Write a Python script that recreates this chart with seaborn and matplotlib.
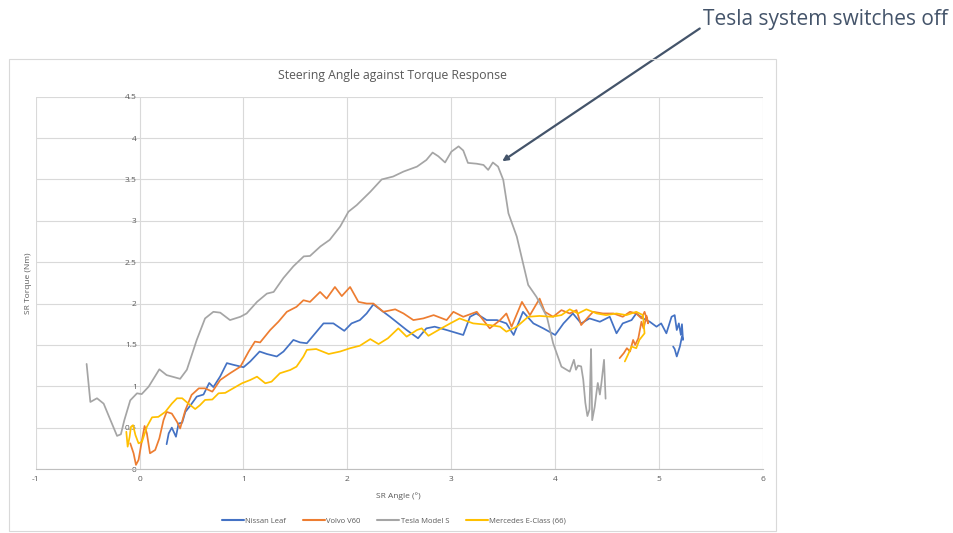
import matplotlib
matplotlib.use("Agg")
import matplotlib.pyplot as plt
import seaborn as sns
import pandas as pd
from matplotlib.patches import Rectangle

# ---------------- data ----------------
nissan_x = [0.26, 0.28, 0.31, 0.35, 0.375, 0.41, 0.44, 0.49, 0.55, 0.615, 0.67, 0.71, 0.776, 0.84, 0.90,
            1.0, 1.065, 1.155, 1.225, 1.32, 1.385, 1.48, 1.545, 1.61, 1.69, 1.77, 1.865, 1.97, 2.04, 2.12,
            2.185, 2.25, 2.41, 2.57, 2.68, 2.76, 2.84, 2.955, 3.115, 3.18, 3.24, 3.34, 3.44, 3.53, 3.60,
            3.69, 3.79, 3.885, 4.0, 4.08, 4.17, 4.25, 4.33, 4.43, 4.525, 4.59, 4.65, 4.735, 4.78, 4.845,
            4.91, 4.975, 5.02, 5.07, 5.12, 5.15, 5.17, 5.19, 5.21, 5.22, 5.23, 5.22, 5.20, 5.17, 5.15, 5.135]
nissan_y = [0.30, 0.43, 0.50, 0.39, 0.55, 0.56, 0.69, 0.77, 0.875, 0.90, 1.04, 0.99, 1.12, 1.28, 1.26,
            1.23, 1.30, 1.42, 1.39, 1.36, 1.42, 1.56, 1.53, 1.52, 1.64, 1.76, 1.76, 1.67, 1.76, 1.80,
            1.88, 1.99, 1.84, 1.68, 1.58, 1.70, 1.72, 1.68, 1.62, 1.84, 1.88, 1.80, 1.80, 1.76, 1.62,
            1.90, 1.76, 1.70, 1.62, 1.76, 1.88, 1.76, 1.82, 1.78, 1.84, 1.64, 1.76, 1.80, 1.88, 1.82,
            1.78, 1.72, 1.76, 1.64, 1.84, 1.86, 1.68, 1.76, 1.62, 1.75, 1.56, 1.60, 1.48, 1.36, 1.45, 1.48]

volvo_x = [-0.09, -0.058, -0.035, -0.01, 0.023, 0.048, 0.07, 0.10, 0.15, 0.19, 0.23, 0.26, 0.31, 0.36,
           0.39, 0.44, 0.50, 0.57, 0.63, 0.70, 0.776, 0.87, 0.97, 1.05, 1.11, 1.16, 1.257, 1.336, 1.417,
           1.51, 1.577, 1.64, 1.737, 1.80, 1.88, 1.946, 2.026, 2.106, 2.186, 2.25, 2.346, 2.46, 2.54,
           2.635, 2.73, 2.83, 2.955, 3.02, 3.115, 3.245, 3.37, 3.47, 3.53, 3.58, 3.68, 3.757, 3.85, 3.90,
           3.98, 4.06, 4.14, 4.205, 4.25, 4.32, 4.365, 4.46, 4.56, 4.65, 4.72, 4.78, 4.83, 4.86, 4.895,
           4.88, 4.85, 4.83, 4.80, 4.77, 4.75, 4.72, 4.69, 4.66, 4.62]
volvo_y = [0.31, 0.19, 0.05, 0.11, 0.35, 0.52, 0.43, 0.19, 0.23, 0.37, 0.59, 0.69, 0.67, 0.57,
           0.49, 0.71, 0.895, 0.975, 0.975, 0.935, 1.076, 1.157, 1.237, 1.42, 1.54, 1.53, 1.68, 1.78, 1.90,
           1.96, 2.04, 2.02, 2.14, 2.06, 2.20, 2.09, 2.20, 2.02, 2.00, 2.00, 1.90, 1.93, 1.88,
           1.80, 1.82, 1.86, 1.80, 1.90, 1.84, 1.90, 1.70, 1.80, 1.88, 1.72, 2.02, 1.86, 2.06, 1.90,
           1.84, 1.92, 1.88, 1.92, 1.74, 1.84, 1.90, 1.88, 1.88, 1.84, 1.90, 1.88, 1.82, 1.90, 1.76,
           1.85, 1.70, 1.78, 1.58, 1.50, 1.56, 1.42, 1.46, 1.40, 1.34]

tesla_x = [-0.51, -0.474, -0.41, -0.346, -0.28, -0.217, -0.18, -0.147, -0.09, -0.025, 0.02, 0.087, 0.19,
           0.26, 0.39, 0.455, 0.55, 0.63, 0.71, 0.776, 0.87, 0.97, 1.03, 1.13, 1.225, 1.29, 1.385, 1.48,
           1.58, 1.64, 1.74, 1.83, 1.93, 2.01, 2.09, 2.22, 2.33, 2.44, 2.54, 2.67, 2.76, 2.82, 2.875,
           2.94, 3.0, 3.07, 3.115, 3.16, 3.245, 3.31, 3.355, 3.40, 3.45, 3.50, 3.55, 3.63, 3.69, 3.74,
           3.82, 3.92, 3.98, 4.06, 4.14, 4.18, 4.20, 4.22, 4.25, 4.27, 4.29, 4.31, 4.33, 4.345, 4.35,
           4.356, 4.38, 4.40, 4.41, 4.43, 4.445, 4.47, 4.485]
tesla_y = [1.27, 0.81, 0.855, 0.79, 0.59, 0.40, 0.42, 0.59, 0.83, 0.915, 0.905, 0.995, 1.205,
           1.135, 1.09, 1.20, 1.56, 1.82, 1.90, 1.89, 1.80, 1.84, 1.88, 2.02, 2.12, 2.14, 2.31, 2.45,
           2.57, 2.575, 2.69, 2.77, 2.93, 3.11, 3.19, 3.35, 3.50, 3.535, 3.595, 3.655, 3.735, 3.825, 3.78,
           3.705, 3.835, 3.90, 3.85, 3.70, 3.69, 3.675, 3.615, 3.705, 3.655, 3.495, 3.09, 2.81, 2.49, 2.225,
           2.08, 1.84, 1.52, 1.237, 1.177, 1.32, 1.20, 1.25, 1.24, 1.08, 0.80, 0.64, 0.72, 1.45, 1.10,
           0.59, 0.75, 0.95, 1.04, 0.90, 1.04, 1.32, 0.85]

merc_x = [-0.128, -0.115, -0.096, -0.083, -0.063, -0.04, -0.01, 0.023, 0.07, 0.12, 0.18, 0.247, 0.31,
          0.36, 0.41, 0.47, 0.535, 0.58, 0.63, 0.70, 0.76, 0.824, 0.90, 0.985, 1.065, 1.13, 1.21, 1.27,
          1.35, 1.45, 1.51, 1.577, 1.61, 1.70, 1.82, 1.93, 2.026, 2.12, 2.22, 2.30, 2.39, 2.49, 2.57,
          2.67, 2.715, 2.78, 2.89, 2.99, 3.08, 3.21, 3.37, 3.47, 3.53, 3.63, 3.74, 3.85, 3.965, 4.06,
          4.14, 4.22, 4.30, 4.40, 4.49, 4.59, 4.685, 4.78, 4.845, 4.86, 4.81, 4.78, 4.735, 4.70, 4.67]
merc_y = [0.45, 0.27, 0.39, 0.51, 0.53, 0.41, 0.31, 0.33, 0.51, 0.625, 0.63, 0.69, 0.79,
          0.855, 0.855, 0.79, 0.725, 0.77, 0.835, 0.84, 0.915, 0.92, 0.975, 1.036, 1.076, 1.116, 1.036, 1.056,
          1.157, 1.197, 1.237, 1.36, 1.44, 1.45, 1.39, 1.42, 1.46, 1.49, 1.57, 1.51, 1.58, 1.70, 1.60,
          1.68, 1.70, 1.61, 1.69, 1.76, 1.82, 1.76, 1.74, 1.72, 1.66, 1.72, 1.84, 1.85, 1.84, 1.86,
          1.93, 1.88, 1.93, 1.88, 1.86, 1.88, 1.86, 1.90, 1.86, 1.64, 1.56, 1.46, 1.48, 1.38, 1.30]

series_names = ["Nissan Leaf", "Volvo V60", "Tesla Model S", "Mercedes E-Class (66)"]
series_colors = ["#4472C4", "#ED7D31", "#A5A5A5", "#FFC000"]
x_ticks = [-1, 0, 1, 2, 3, 4, 5, 6]
y_ticks = [0, 0.5, 1, 1.5, 2, 2.5, 3, 3.5, 4, 4.5]
y_tick_labels = ["0", "0.5", "1", "1.5", "2", "2.5", "3", "3.5", "4", "4.5"]
title_text = "Steering Angle against Torque Response"
x_label = "SR Angle (°)"
y_label = "SR Torque (Nm)"
annotation_text = "Tesla system switches off"

# ---------------- figure ----------------
sns.set_theme(style="white")
plt.rcParams["font.family"] = ["Open Sans", "DejaVu Sans"]

fig = plt.figure(figsize=(9.54, 5.33), dpi=100)
fig.patch.set_facecolor("white")

# chart frame
fig.add_artist(Rectangle((9 / 954, 1 - 531 / 533), (776 - 9) / 954, (531 - 59) / 533,
                         transform=fig.transFigure, fill=False, edgecolor="#D9D9D9", lw=0.8))

ax = fig.add_axes([35.7 / 954, 1 - 469 / 533, (763 - 35.7) / 954, (469 - 96.7) / 533])
ax.set_facecolor("none")

frames = []
for name, xs, ys in zip(series_names, [nissan_x, volvo_x, tesla_x, merc_x],
                        [nissan_y, volvo_y, tesla_y, merc_y]):
    frames.append(pd.DataFrame({"angle": xs, "torque": ys, "car": name}))
df = pd.concat(frames, ignore_index=True)

for name, col in zip(series_names, series_colors):
    sub = df[df["car"] == name]
    sns.lineplot(data=sub, x="angle", y="torque", sort=False, estimator=None, ax=ax,
                 color=col, lw=1.25, label=name)

ax.set_xlim(-1, 6)
ax.set_ylim(0, 4.5)
ax.set_xticks(x_ticks)
ax.set_yticks(y_ticks)
ax.set_xticklabels([str(t) for t in x_ticks])
ax.set_yticklabels(y_tick_labels)
ax.grid(True, color="#D9D9D9", lw=0.8)
ax.set_axisbelow(True)
for s in ["top", "right"]:
    ax.spines[s].set_visible(False)
ax.spines["left"].set_position(("data", 0))
ax.spines["left"].set_color("none")
ax.spines["bottom"].set_color("#BFBFBF")
ax.spines["bottom"].set_linewidth(0.8)
ax.tick_params(axis="both", length=0, labelsize=6, labelcolor="#595959")
ax.tick_params(axis="y", pad=2)
ax.tick_params(axis="x", pad=5)
ax.set_xlabel("")
ax.set_ylabel("")

fig.text(29 / 954, 1 - 283 / 533, y_label, rotation=90, ha="center", va="center",
         fontsize=6, color="#595959")
fig.text(398 / 954, 1 - 496 / 533, x_label, ha="center", va="center", fontsize=6, color="#595959")
fig.text(392 / 954, 1 - 75 / 533, title_text, ha="center", va="center", fontsize=8.8, color="#595959")

leg = ax.legend(loc="center", bbox_to_anchor=(394 / 954, 1 - 521 / 533), bbox_transform=fig.transFigure,
                ncol=4, frameon=False, fontsize=5.5, handlelength=2.9, columnspacing=2.2,
                handletextpad=0.15, labelcolor="#595959")
for line in leg.get_lines():
    line.set_linewidth(1.5)

# annotation with arrow
ax.annotate(annotation_text, xy=(3.49, 3.72), xycoords="data",
            xytext=(703, 533 - 20), textcoords="figure pixels",
            ha="left", va="center", fontsize=15, color="#44546A",
            arrowprops=dict(arrowstyle="-|>", color="#44546A", lw=1.6,
                            shrinkA=0, shrinkB=0, mutation_scale=8,
                            relpos=(0, 0.2)),
            annotation_clip=False)

fig.savefig("out.png", dpi=100, facecolor="white")
